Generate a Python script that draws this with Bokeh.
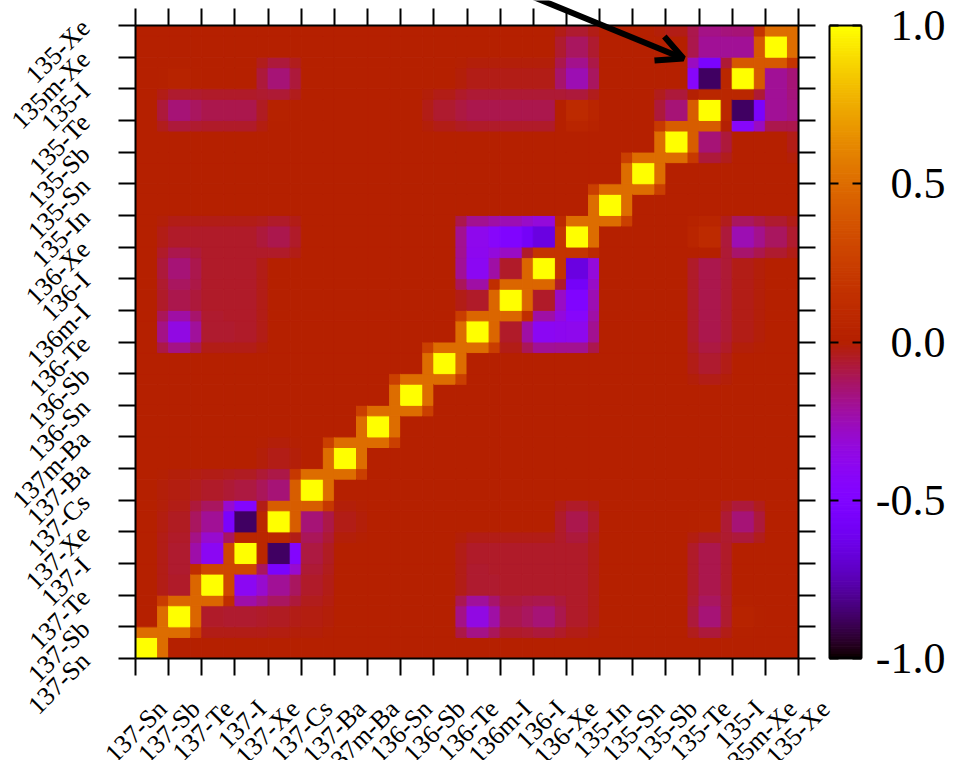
import numpy as np
from bokeh.plotting import figure
from bokeh.models import (ColumnDataSource, FixedTicker, LinearAxis, Arrow,
                          OpenHead, Range1d)
from bokeh.transform import linear_cmap
from bokeh.core.properties import value
from bokeh.embed import file_html
from bokeh.resources import INLINE

# ---------------- data ----------------
nuclides = ["137-Sn", "137-Sb", "137-Te", "137-I", "137-Xe", "137-Cs", "137-Ba", "137m-Ba",
            "136-Sn", "136-Sb", "136-Te", "136m-I", "136-I", "136-Xe",
            "135-In", "135-Sn", "135-Sb", "135-Te", "135-I", "135m-Xe", "135-Xe"]

# off-diagonal correlation coefficients (symmetric), index pairs into nuclides
pair_i = [1, 1, 1, 1, 2, 2, 2, 3, 3, 4, 4,
          1, 1, 1, 1, 2, 2, 2, 2, 3, 3, 3, 3, 4,
          1, 1, 2, 3, 4, 4,
          10, 10, 10, 11, 11, 12,
          9, 10, 11, 12, 13, 13, 13, 10, 11, 12,
          16, 16, 17, 17, 17, 18, 18]
pair_j = [2, 3, 4, 5, 3, 4, 5, 4, 5, 5, 6,
          10, 11, 12, 13, 10, 11, 12, 13, 10, 11, 12, 13, 13,
          17, 18, 17, 17, 17, 18,
          11, 12, 13, 12, 13, 13,
          17, 17, 17, 17, 17, 18, 19, 18, 18, 18,
          17, 20, 18, 19, 20, 19, 20]
pair_r = [-0.05, -0.06, -0.04, -0.02, -0.40, -0.20, -0.05, -0.87, -0.08, -0.15, -0.03,
          -0.35, -0.10, -0.15, -0.05, -0.06, -0.05, -0.05, -0.05, -0.05, -0.05, -0.05, -0.05, -0.10,
          -0.15, 0.03, -0.10, -0.10, 0.02, -0.15,
          -0.05, -0.40, -0.38, -0.05, -0.50, -0.65,
          -0.06, -0.10, -0.10, -0.10, 0.10, -0.25, -0.12, -0.03, -0.03, -0.03,
          -0.15, -0.05, -0.87, -0.20, -0.15, -0.20, -0.10]

cb_ticks = [-1.0, -0.5, 0.0, 0.5, 1.0]
cb_labels = ["-1.0", "-0.5", "0.0", "0.5", "1.0"]

# arrow: from beyond the top edge to the 135-Te / 135-I anticorrelation
arrow_start = (11.61, 21.07)
arrow_end = (16.53, 18.96)

# ---------------- layout constants (pixels) ----------------
W, H = 955, 760                 # canvas / frame size
MAP_L, MAP_T = 135, 25          # heat-map box left / top
MAP_W, MAP_H = 663, 633         # heat-map box size
CB_L, CB_W = 829, 32            # colour bar left / width

# ---------------- matrix ----------------
n = len(nuclides)
M = np.eye(n)
for a, b, r in zip(pair_i, pair_j, pair_r):
    M[a, b] = r
    M[b, a] = r

# gnuplot default palette (rgbformulae 7,5,15)
def gp_color(x):
    r = np.sqrt(x)
    g = x ** 3
    b = max(np.sin(2 * np.pi * x), 0.0)
    return "#%02x%02x%02x" % tuple(int(round(255 * min(max(c, 0), 1))) for c in (r, g, b))

palette = [gp_color(x) for x in np.linspace(0, 1, 256)]

# interpolated rendering: each cell = own value on 2/3, blended with next on 1/3
parts = [(0.0, 2.0 / 3.0, (0,)), (2.0 / 3.0, 1.0, (0, 1))]
left, right, bottom, top, val = [], [], [], [], []
for i in range(n - 1):
    for (x0, x1, dxs) in parts:
        for j in range(n - 1):
            for (y0, y1, dys) in parts:
                v = float(np.mean([M[j + b, i + a] for a in dxs for b in dys]))
                left.append(i + x0)
                right.append(i + x1)
                bottom.append(j + y0)
                top.append(j + y1)
                val.append(v)

src = ColumnDataSource(dict(left=left, right=right, bottom=bottom, top=top, v=val))
cmap = linear_cmap("v", palette, -1.0, 1.0)

# ranges such that the heat map [0, n-1] occupies the box, frame = whole canvas
nc = n - 1
cw = MAP_W / nc
chh = MAP_H / nc
x_rng = Range1d(-MAP_L / cw, (W - MAP_L) / cw)
y_rng = Range1d(nc - (H - MAP_T) / chh, nc + MAP_T / chh)
# colour-bar ranges: x in [0,1] across the bar, y in [-1,1] over the same height
cbx_rng = Range1d(-CB_L / CB_W, (W - CB_L) / CB_W)
cby_rng = Range1d(1 - 2 * (H - MAP_T) / MAP_H, 1 + 2 * MAP_T / MAP_H)

p = figure(x_range=x_rng, y_range=y_rng, frame_width=W, frame_height=H,
           min_border_left=0, min_border_right=0, min_border_top=0, min_border_bottom=0,
           toolbar_location=None, output_backend="svg",
           x_axis_location=None, y_axis_location=None)
p.extra_x_ranges = {"cbx": cbx_rng}
p.extra_y_ranges = {"cby": cby_rng}
p.grid.visible = False
p.background_fill_color = "white"
p.border_fill_color = "white"
p.outline_line_color = None

p.quad(left="left", right="right", bottom="bottom", top="top", source=src,
       fill_color=cmap, line_color=cmap, line_width=1.0)

FONT = value("Liberation Serif")

def style_axis(ax, tick_in, tick_out):
    ax.major_label_text_font_size = "0px"
    ax.major_label_standoff = 0
    ax.major_tick_out = tick_out
    ax.major_tick_in = tick_in
    ax.minor_tick_line_color = None
    ax.major_tick_line_width = 2
    ax.major_tick_line_color = "black"
    ax.axis_line_width = 2
    ax.axis_line_color = "black"

# heat-map axes (ticks outward on all four sides), placed at the box edges
for side, loc in [("below", 0), ("left", 0), ("above", nc), ("right", nc)]:
    ax = LinearAxis(ticker=FixedTicker(ticks=list(range(n))), fixed_location=loc,
                    bounds=(0, nc), major_label_overrides={k: "" for k in range(n)})
    style_axis(ax, 0, 17)
    p.add_layout(ax, side)

# rotated tick labels
p.text(x=list(range(n)), y=[0] * n, text=nuclides, x_offset=27, y_offset=46,
       angle=45, angle_units="deg", text_align="right", text_baseline="middle",
       text_font=FONT, text_font_size="26px", text_color="black")
p.text(x=[0] * n, y=list(range(n)), text=nuclides, x_offset=-50, y_offset=-2,
       angle=45, angle_units="deg", text_align="right", text_baseline="middle",
       text_font=FONT, text_font_size="26px", text_color="black")

# arrow
p.add_layout(Arrow(end=OpenHead(size=26, line_width=6, line_color="black"),
                   x_start=arrow_start[0], y_start=arrow_start[1],
                   x_end=arrow_end[0], y_end=arrow_end[1],
                   line_width=6, line_color="black"))

# ---------------- colour bar ----------------
levels = np.linspace(-1.0, 1.0, 257)
cb_src = ColumnDataSource(dict(bottom=levels[:-1], top=levels[1:],
                               v=(levels[:-1] + levels[1:]) / 2))
p.quad(left=0, right=1, bottom="bottom", top="top", source=cb_src,
       x_range_name="cbx", y_range_name="cby",
       fill_color=linear_cmap("v", palette, -1.0, 1.0),
       line_color=linear_cmap("v", palette, -1.0, 1.0), line_width=1.0)

for side, loc in [("left", 0), ("right", 1)]:
    ax = LinearAxis(ticker=FixedTicker(ticks=cb_ticks), fixed_location=loc,
                    x_range_name="cbx", y_range_name="cby", bounds=(-1, 1),
                    major_label_overrides={t: "" for t in cb_ticks})
    style_axis(ax, 9, 0)
    p.add_layout(ax, side)
for side, loc in [("below", -1), ("above", 1)]:
    ax = LinearAxis(ticker=FixedTicker(ticks=[]), fixed_location=loc,
                    x_range_name="cbx", y_range_name="cby", bounds=(0, 1))
    style_axis(ax, 0, 0)
    p.add_layout(ax, side)

p.text(x=[1] * len(cb_ticks), y=cb_ticks, text=cb_labels, x_offset=84,
       x_range_name="cbx", y_range_name="cby",
       text_align="right", text_baseline="middle",
       text_font=FONT, text_font_size="44px", text_color="black")

open("out.html", "w").write(file_html(p, INLINE))
